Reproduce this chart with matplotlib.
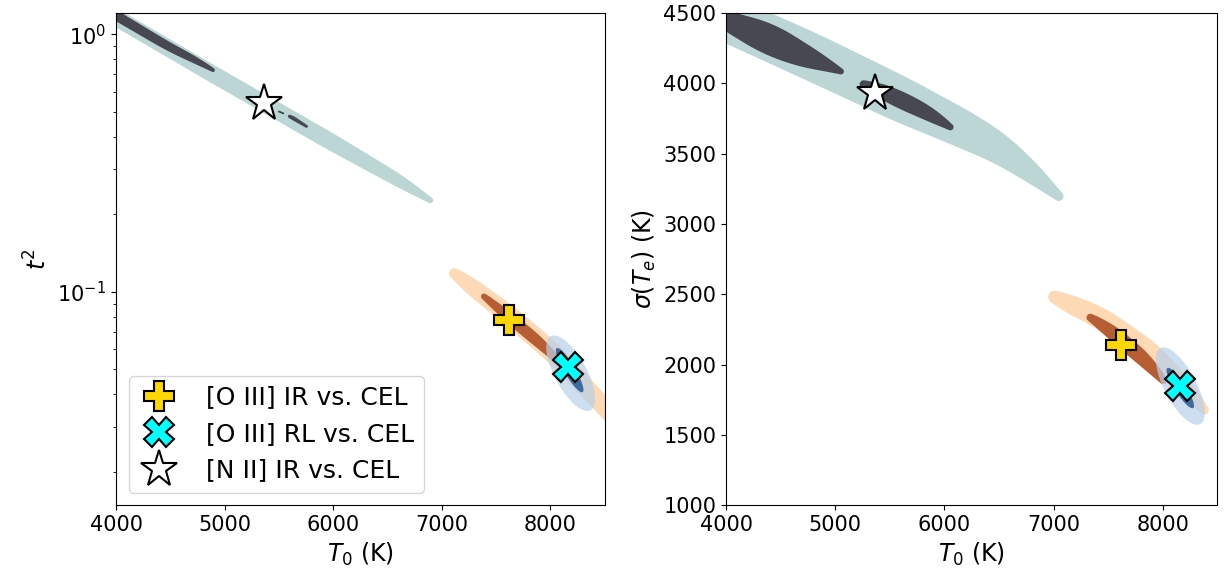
import numpy as np
import matplotlib.pyplot as plt

plt.rcParams.update({'font.size': 15})

# best-fit points: T0 (K), t^2, sigma(Te) (K)
labels = ["[O III] IR vs. CEL", "[O III] RL vs. CEL", "[N II] IR vs. CEL"]
t0_best = [7620, 8160, 5360]
t2_best = [0.078, 0.051, 0.54]
sig_best = [2140, 1845, 3935]

# credible regions
# tubes: centre line nodes (T0, y, half width in px)
# blobs: ellipses (T0 start, y start, T0 end, y end, half width in px)
nii_out_t2 = [(3485, 1.55, 8.5), (4000, 1.164, 8.5), (4865, 0.712, 8.5),
              (5969, 0.385, 8.5), (6613, 0.269, 6.5), (6930, 0.222, 2.5)]
nii_in_t2 = [(3485, 1.59, 5), (4000, 1.185, 5), (4497, 0.890, 4.5),
             (4773, 0.779, 3.5), (4930, 0.712, 1.5)]
nii_dash_t2 = [(5590, 0.482, 1.5), (5619, 0.4766, 2.2), (5760, 0.438, 1.5)]
nii_dot_t2 = [(5500, 0.502, 1.0), (5540, 0.494, 1.0)]
oiii_ir_out_t2 = [(7080, 0.1210, 4), (7200, 0.1110, 8), (7616, 0.0812, 10),
                  (8020, 0.0583, 10), (8453, 0.0373, 9), (8729, 0.0273, 7)]
oiii_ir_in_t2 = [(7355, 0.0985, 2.5), (7487, 0.0888, 4.5), (7717, 0.0736, 6),
                 (7947, 0.0610, 5.5), (8090, 0.0530, 3)]
oiii_rl_out_t2 = [(8002, 0.0673, 8370, 0.0347, 16)]
oiii_rl_in_t2 = [(8057, 0.0605, 8296, 0.0408, 5.5)]

nii_out_sig = [(3578, 4614, 22), (4018, 4457, 23), (4770, 4194, 23.5),
               (5136, 4059, 23), (5595, 3888, 22.5), (6209, 3661, 18.5),
               (6511, 3533, 15), (6814, 3355, 10), (7080, 3175, 4)]
nii_in_sig = [(3762, 4536, 6), (4018, 4443, 10), (4376, 4322, 16),
              (4678, 4208, 12.5), (4907, 4137, 7), (5090, 4072, 2)]
nii_in2_sig = [(5220, 4003, 3), (5320, 3981, 6), (5549, 3902, 9),
               (5870, 3781, 7.5), (6090, 3672, 2.5)]
oiii_ir_out_sig = [(6970, 2495, 5), (7080, 2455, 9), (7428, 2334, 11),
                   (7886, 2078, 12), (8225, 1818, 9), (8410, 1650, 3.5)]
oiii_ir_in_sig = [(7300, 2350, 3), (7428, 2295, 6), (7657, 2152, 8),
                  (7886, 1996, 7), (8030, 1862, 3)]
oiii_rl_out_sig = [(7978, 2117, 8344, 1576, 16)]
oiii_rl_in_sig = [(8042, 1975, 8280, 1690, 5.5)]


def smooth(a, k):
    if k < 3:
        return a
    pad = np.concatenate([np.full(k // 2, a[0]), a, np.full(k // 2, a[-1])])
    return np.convolve(pad, np.ones(k) / k, mode='valid')


def tube(ax, px, py, nodes):
    # union of discs swept along a smoothed centre line
    p = ax.transData.transform([(n[0], n[1]) for n in nodes])
    w = np.array([n[2] for n in nodes])
    seg = np.hypot(*np.diff(p, axis=0).T)
    s = np.concatenate([[0], np.cumsum(seg)])
    ss = np.linspace(0, s[-1], int(s[-1] / 1.5) + 2)
    k = min(25, (len(ss) // 3) | 1)
    cx = smooth(np.interp(ss, s, p[:, 0]), k)
    cy = smooth(np.interp(ss, s, p[:, 1]), k)
    r = smooth(np.interp(ss, s, w), k)
    f = np.full(px.shape, -np.inf)
    for j in range(len(ss)):
        f = np.maximum(f, 1 - np.hypot(px - cx[j], py - cy[j]) / r[j])
    return f


def blob(ax, px, py, shapes):
    f = np.full(px.shape, -np.inf)
    for T1, y1, T2, y2, hw in shapes:
        (x1, yy1), (x2, yy2) = ax.transData.transform([(T1, y1), (T2, y2)])
        cx, cy = (x1 + x2) / 2, (yy1 + yy2) / 2
        a = np.hypot(x2 - x1, yy2 - yy1) / 2
        ux, uy = (x2 - x1) / (2 * a), (yy2 - yy1) / (2 * a)
        s = (px - cx) * ux + (py - cy) * uy
        n = -(px - cx) * uy + (py - cy) * ux
        f = np.maximum(f, 1 - (s / a)**2 - (n / hw)**2)
    return f


fig = plt.figure(figsize=(12.25, 5.72), dpi=100)
ax1 = fig.add_axes([0.0947, 0.117, 0.399, 0.860])
ax2 = fig.add_axes([0.5927, 0.117, 0.401, 0.860])

ax1.set_yscale('log')
ax1.set_xlim(4000, 8500)
ax1.set_ylim(0.01486, 1.21)
ax2.set_xlim(4000, 8500)
ax2.set_ylim(1000, 4500)

c_nii = ("#bcd6d6", "#474852")
c_ir = ("#fdd9b5", "#b65d33")
c_rl = ("#b8d0ea", "#2f6098")

xg = np.linspace(3300, 8900, 760)
grids = {ax1: np.logspace(-2.1, 0.35, 760), ax2: np.linspace(800, 4900, 760)}
layers = {
    ax1: [([nii_out_t2], [], c_nii[0], 1),
          ([nii_in_t2, nii_dash_t2, nii_dot_t2], [], c_nii[1], 1),
          ([oiii_ir_out_t2], [], c_ir[0], 1),
          ([oiii_ir_in_t2], [], c_ir[1], 1),
          ([], oiii_rl_out_t2, c_rl[0], 0.7),
          ([], oiii_rl_in_t2, c_rl[1], 0.9)],
    ax2: [([nii_out_sig], [], c_nii[0], 1),
          ([nii_in_sig, nii_in2_sig], [], c_nii[1], 1),
          ([oiii_ir_out_sig], [], c_ir[0], 1),
          ([oiii_ir_in_sig], [], c_ir[1], 1),
          ([], oiii_rl_out_sig, c_rl[0], 0.7),
          ([], oiii_rl_in_sig, c_rl[1], 0.9)]}

for ax in (ax1, ax2):
    X, Y = np.meshgrid(xg, grids[ax])
    pts = ax.transData.transform(np.column_stack([X.ravel(), Y.ravel()]))
    px, py = pts[:, 0], pts[:, 1]
    for tubes, blobs, col, al in layers[ax]:
        F = np.full(px.shape, -np.inf)
        for nodes in tubes:
            F = np.maximum(F, tube(ax, px, py, nodes))
        if blobs:
            F = np.maximum(F, blob(ax, px, py, blobs))
        ax.contourf(X, Y, F.reshape(X.shape), levels=[0, 1.01],
                    colors=[col], alpha=al, antialiased=True)

mk = [dict(marker='P', ms=21, mfc='gold'),
      dict(marker='X', ms=21, mfc='cyan'),
      dict(marker='*', ms=28, mfc='white')]
for i in range(3):
    ax1.plot(t0_best[i], t2_best[i], ls='none', mec='black', mew=1.5,
             label=labels[i], zorder=5, **mk[i])
    ax2.plot(t0_best[i], sig_best[i], ls='none', mec='black', mew=1.5,
             zorder=5, **mk[i])

ax1.legend(loc='lower left', fontsize=18, handlelength=1.6, handletextpad=1.1)
ax1.set_xlabel("$T_0$ (K)", fontsize=17)
ax1.set_ylabel("$t^2$", fontsize=17)
ax2.set_xlabel("$T_0$ (K)", fontsize=17)
ax2.set_ylabel(r"$\sigma(T_e)$ (K)", fontsize=17)
ax1.set_xticks([4000, 5000, 6000, 7000, 8000])
ax2.set_xticks([4000, 5000, 6000, 7000, 8000])

plt.savefig("out.png", dpi=100)
